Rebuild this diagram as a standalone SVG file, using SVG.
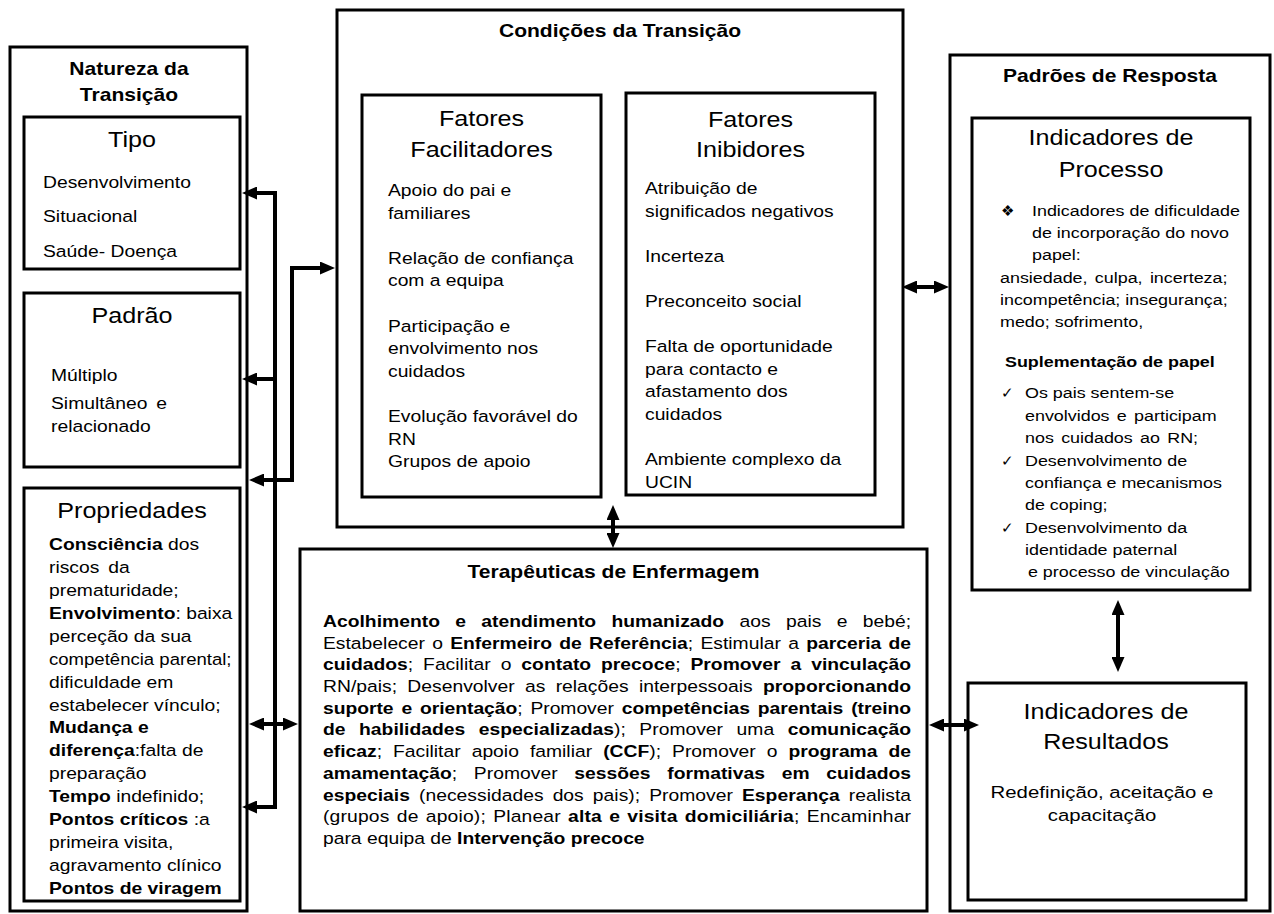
<svg xmlns="http://www.w3.org/2000/svg" width="1274" height="914" viewBox="0 0 1274 914">
<defs>
<style>
.box{fill:none;stroke:#000;stroke-width:3}
text{font-family:"Liberation Sans",Arial,sans-serif;fill:#000}
.bd{font-size:16.5px}
.rc{font-size:15.3px}
.ti{font-size:21.5px}
.hd{font-size:18px;font-weight:bold}
.b{font-weight:bold}
.sym{font-family:"DejaVu Sans",sans-serif}
.conn{fill:none;stroke:#000;stroke-width:4;stroke-linejoin:miter}
</style>
<marker id="arr" viewBox="0 0 15 13" refX="2" refY="6.5" markerWidth="15" markerHeight="13" markerUnits="userSpaceOnUse" orient="auto-start-reverse"><path d="M0,0 L15,6.5 L0,13 z" fill="#000"/></marker>
</defs>
<rect width="1274" height="914" fill="#fff"/>

<g id="natureza">
<rect class="box" x="10" y="47" width="237" height="864"/>
<text class="hd" text-anchor="middle" transform="translate(129,0) scale(1.17,1)"><tspan x="0" y="75">Natureza da</tspan><tspan x="0" y="101">Transição</tspan></text>
</g>

<g id="tipo">
<rect class="box" x="24" y="117" width="216" height="152"/>
<text class="ti" text-anchor="middle" transform="translate(132,0) scale(1.17,1)" y="147">Tipo</text>
<g class="bd" transform="translate(43,0) scale(1.17,1)">
<text y="188">Desenvolvimento</text>
<text y="222.5">Situacional</text>
<text y="257">Saúde- Doença</text>
</g>
</g>

<g id="padrao">
<rect class="box" x="24" y="293" width="216" height="174"/>
<text class="ti" text-anchor="middle" transform="translate(132,0) scale(1.17,1)" y="323">Padrão</text>
<g class="bd" transform="translate(51,0) scale(1.17,1)">
<text y="381">Múltiplo</text>
<text y="409" word-spacing="3">Simultâneo e</text>
<text y="432">relacionado</text>
</g>
</g>

<g id="propriedades">
<rect class="box" x="24" y="488" width="216" height="413"/>
<text class="ti" text-anchor="middle" transform="translate(132,0) scale(1.17,1)" y="518">Propriedades</text>
<g class="bd" transform="translate(49,0) scale(1.17,1)">
<text y="550.5"><tspan class="b">Consciência</tspan> dos</text>
<text y="573.4" word-spacing="3">riscos da</text>
<text y="596.2">prematuridade;</text>
<text y="619.1"><tspan class="b">Envolvimento</tspan>: baixa</text>
<text y="642">perceção da sua</text>
<text y="664.9" textLength="156" lengthAdjust="spacingAndGlyphs">competência parental;</text>
<text y="687.7">dificuldade em</text>
<text y="710.6">estabelecer vínculo;</text>
<text y="733.5" class="b">Mudança e</text>
<text y="756.3"><tspan class="b">diferença</tspan>:falta de</text>
<text y="779.2">preparação</text>
<text y="802.1"><tspan class="b">Tempo</tspan> indefinido;</text>
<text y="825"><tspan class="b">Pontos críticos</tspan> :a</text>
<text y="847.8">primeira visita,</text>
<text y="870.7">agravamento clínico</text>
<text y="893.6" class="b">Pontos de viragem</text>
</g>
</g>

<g id="condicoes">
<rect class="box" x="337" y="10" width="566" height="517"/>
<text class="hd" text-anchor="middle" transform="translate(620,0) scale(1.17,1)" y="37">Condições da Transição</text>
</g>

<g id="facilitadores">
<rect class="box" x="362" y="95" width="239" height="402"/>
<text class="ti" text-anchor="middle" transform="translate(481.5,0) scale(1.17,1)"><tspan x="0" y="126">Fatores</tspan><tspan x="0" y="157">Facilitadores</tspan></text>
<g class="bd" transform="translate(388,0) scale(1.17,1)">
<text y="196">Apoio do pai e</text>
<text y="218.6">familiares</text>
<text y="263.8">Relação de confiança</text>
<text y="286.4">com a equipa</text>
<text y="331.6">Participação e</text>
<text y="354.2">envolvimento nos</text>
<text y="376.8">cuidados</text>
<text y="422">Evolução favorável do</text>
<text y="444.6">RN</text>
<text y="467.2">Grupos de apoio</text>
</g>
</g>

<g id="inibidores">
<rect class="box" x="626" y="93" width="249" height="402"/>
<text class="ti" text-anchor="middle" transform="translate(750.5,0) scale(1.17,1)"><tspan x="0" y="127">Fatores</tspan><tspan x="0" y="157">Inibidores</tspan></text>
<g class="bd" transform="translate(645,0) scale(1.17,1)">
<text y="194">Atribuição de</text>
<text y="216.6">significados negativos</text>
<text y="261.8">Incerteza</text>
<text y="307">Preconceito social</text>
<text y="352.2">Falta de oportunidade</text>
<text y="374.8">para contacto e</text>
<text y="397.4">afastamento dos</text>
<text y="420">cuidados</text>
<text y="465.2">Ambiente complexo da</text>
<text y="487.8">UCIN</text>
</g>
</g>

<g id="terapeuticas">
<rect class="box" x="300" y="549" width="627" height="362"/>
<text class="hd" text-anchor="middle" transform="translate(613.5,0) scale(1.17,1)" y="578">Terapêuticas de Enfermagem</text>
<g class="bd" transform="translate(323,0) scale(1.17,1)">
<text y="627" textLength="502.6" lengthAdjust="spacing" word-spacing="8.5"><tspan class="b">Acolhimento e atendimento humanizado</tspan> aos pais e bebé;</text>
<text y="648.7" textLength="502.6" lengthAdjust="spacing" word-spacing="1.6">Estabelecer o <tspan class="b">Enfermeiro de Referência</tspan>; Estimular a <tspan class="b">parceria de</tspan></text>
<text y="670.4" textLength="502.6" lengthAdjust="spacing" word-spacing="3.9"><tspan class="b">cuidados</tspan>; Facilitar o <tspan class="b">contato precoce</tspan>; <tspan class="b">Promover a vinculação</tspan></text>
<text y="692.1" textLength="502.6" lengthAdjust="spacing" word-spacing="4.2">RN/pais; Desenvolver as relações interpessoais <tspan class="b">proporcionando</tspan></text>
<text y="713.8" textLength="502.6" lengthAdjust="spacing" word-spacing="2.2"><tspan class="b">suporte e orientação</tspan>; Promover <tspan class="b">competências parentais (treino</tspan></text>
<text y="735.5" textLength="502.6" lengthAdjust="spacing" word-spacing="7"><tspan class="b">de habilidades especializadas</tspan>); Promover uma <tspan class="b">comunicação</tspan></text>
<text y="757.2" textLength="502.6" lengthAdjust="spacing" word-spacing="4.8"><tspan class="b">eficaz</tspan>; Facilitar apoio familiar <tspan class="b">(CCF</tspan>); Promover o <tspan class="b">programa de</tspan></text>
<text y="778.9" textLength="502.6" lengthAdjust="spacing" word-spacing="9.7"><tspan class="b">amamentação</tspan>; Promover <tspan class="b">sessões formativas em cuidados</tspan></text>
<text y="800.6" textLength="502.6" lengthAdjust="spacing" word-spacing="3.2"><tspan class="b">especiais</tspan> (necessidades dos pais); Promover <tspan class="b">Esperança</tspan> realista</text>
<text y="822.3" textLength="502.6" lengthAdjust="spacing" word-spacing="1.5">(grupos de apoio); Planear <tspan class="b">alta e visita domiciliária</tspan>; Encaminhar</text>
<text y="844">para equipa de <tspan class="b">Intervenção precoce</tspan></text>
</g>
</g>

<g id="padroes">
<rect class="box" x="950" y="55" width="320" height="856"/>
<text class="hd" text-anchor="middle" transform="translate(1110,0) scale(1.17,1)" y="82">Padrões de Resposta</text>
</g>

<g id="processo">
<rect class="box" x="972" y="118" width="278" height="472"/>
<text class="ti" text-anchor="middle" transform="translate(1111,0) scale(1.17,1)"><tspan x="0" y="145">Indicadores de</tspan><tspan x="0" y="177">Processo</tspan></text>
<text class="sym" font-size="15" x="1001" y="216">❖</text>
<g class="rc" transform="translate(1032,0) scale(1.17,1)">
<text y="216">Indicadores de dificuldade</text>
<text y="238">de incorporação do novo</text>
<text y="260">papel:</text>
</g>
<g class="rc" transform="translate(1000,0) scale(1.17,1)">
<text y="283" word-spacing="2">ansiedade, culpa, incerteza;</text>
<text y="305">incompetência; insegurança;</text>
<text y="327">medo; sofrimento,</text>
</g>
<text class="b" font-size="15.3" transform="translate(1005,0) scale(1.17,1)" y="367">Suplementação de papel</text>
<g class="sym" font-size="15">
<text x="1001" y="398">✓</text>
<text x="1001" y="466">✓</text>
<text x="1001" y="533">✓</text>
</g>
<g class="rc" transform="translate(1025,0) scale(1.17,1)">
<text y="398">Os pais sentem-se</text>
<text y="421" word-spacing="2">envolvidos e participam</text>
<text y="443" word-spacing="2">nos cuidados ao RN;</text>
<text y="466">Desenvolvimento de</text>
<text y="488">confiança e mecanismos</text>
<text y="510">de coping;</text>
<text y="533">Desenvolvimento da</text>
<text y="555">identidade paternal</text>
<text x="2.5" y="577">e processo de vinculação</text>
</g>
</g>

<g id="resultados">
<rect class="box" x="968" y="683" width="278" height="217"/>
<text class="ti" text-anchor="middle" transform="translate(1106,0) scale(1.17,1)"><tspan x="0" y="719">Indicadores de</tspan><tspan x="0" y="749">Resultados</tspan></text>
<text font-size="17.4" text-anchor="middle" transform="translate(1102,0) scale(1.17,1)"><tspan x="0" y="798">Redefinição, aceitação e</tspan><tspan x="0" y="821">capacitação</tspan></text>
</g>

<g id="connectors" class="conn">
<path d="M255,193 H275 V807 H255" marker-start="url(#arr)" marker-end="url(#arr)"/>
<path d="M275,379 H255" marker-end="url(#arr)"/>
<path d="M322,268 H292 V480 H262" marker-start="url(#arr)" marker-end="url(#arr)"/>
<path d="M262,724 H285" marker-start="url(#arr)" marker-end="url(#arr)"/>
<path d="M613,518 V535" marker-start="url(#arr)" marker-end="url(#arr)"/>
<path d="M915,287 H936" marker-start="url(#arr)" marker-end="url(#arr)"/>
<path d="M942,725 H966" marker-start="url(#arr)" marker-end="url(#arr)"/>
<path d="M1118,613 V659" marker-start="url(#arr)" marker-end="url(#arr)"/>
</g>
</svg>
